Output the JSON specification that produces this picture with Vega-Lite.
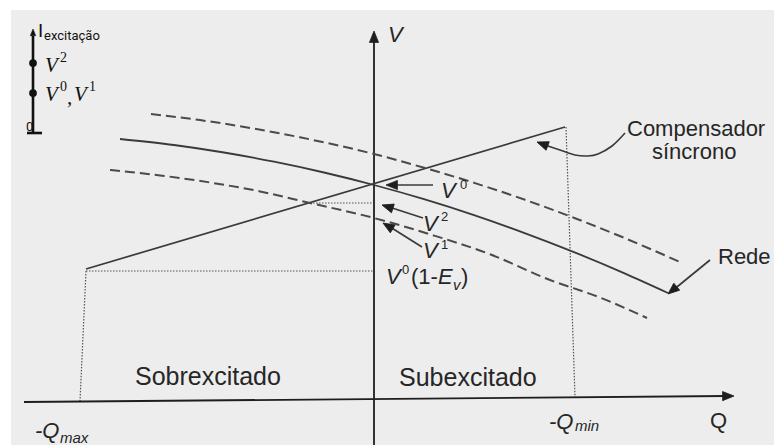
{
  "$schema": "https://vega.github.io/schema/vega-lite/v6.json",
  "width": 763,
  "height": 435,
  "padding": {"left": 11, "top": 10, "right": 0, "bottom": 0},
  "autosize": {"type": "none"},
  "background": "white",
  "config": {"view": {"stroke": null, "fill": "#ededed"}},
  "datasets": {
    "axes": [
      {"q": 0, "v": -45, "q2": 0, "v2": 362},
      {"q": -350, "v": -2, "q2": 352, "v2": 4}
    ],
    "solid_segments": [
      {"name": "compensador", "q": -288, "v": 131, "q2": 191, "v2": 273},
      {"name": "seta V0", "q": 59, "v": 215, "q2": 18, "v2": 215},
      {"name": "seta V2", "q": 49, "v": 182, "q2": 12, "v2": 194},
      {"name": "seta V1", "q": 48, "v": 153, "q2": 13, "v2": 175},
      {"name": "seta rede", "q": 336, "v": 140, "q2": 298, "v2": 109}
    ],
    "dotted_segments": [
      {"name": "V0(1-Ev)", "q": -288, "v": 129, "q2": 0, "v2": 129},
      {"name": "-Qmax", "q": -288, "v": 129, "q2": -294, "v2": -1},
      {"name": "-Qmin", "q": 192, "v": 273, "q2": 201, "v2": 3},
      {"name": "V2", "q": -64, "v": 197, "q2": 0, "v2": 197}
    ],
    "rede": [
      {"q": -254, "v": 261}, {"q": -200, "v": 255}, {"q": -150, "v": 247.5},
      {"q": -100, "v": 238.3}, {"q": -50, "v": 227.5}, {"q": 0, "v": 215},
      {"q": 50, "v": 200.8}, {"q": 100, "v": 184.9}, {"q": 150, "v": 167.2},
      {"q": 200, "v": 147.9}, {"q": 250, "v": 126.9}, {"q": 294, "v": 107}
    ],
    "dashed": [
      {"curve": "superior", "q": -223, "v": 286}, {"curve": "superior", "q": -174, "v": 279.9},
      {"curve": "superior", "q": -124, "v": 272.1}, {"curve": "superior", "q": -74, "v": 262.7},
      {"curve": "superior", "q": 0, "v": 246}, {"curve": "superior", "q": 51, "v": 232},
      {"curve": "superior", "q": 101, "v": 216.9}, {"curve": "superior", "q": 151, "v": 200.2},
      {"curve": "superior", "q": 201, "v": 181.8}, {"curve": "superior", "q": 251, "v": 161.8},
      {"curve": "superior", "q": 306, "v": 138},
      {"curve": "inferior", "q": -264, "v": 230}, {"curve": "inferior", "q": -214, "v": 224.6},
      {"curve": "inferior", "q": -164, "v": 217.5}, {"curve": "inferior", "q": -114, "v": 208.6},
      {"curve": "inferior", "q": -64, "v": 197}, {"curve": "inferior", "q": 0, "v": 182},
      {"curve": "inferior", "q": 56, "v": 165.7}, {"curve": "inferior", "q": 116, "v": 145.8},
      {"curve": "inferior", "q": 176, "v": 120}, {"curve": "inferior", "q": 226, "v": 102.5},
      {"curve": "inferior", "q": 273, "v": 82}
    ],
    "callout": [
      {"i": 0, "q": 251, "v": 267}, {"i": 1, "q": 238, "v": 254}, {"i": 2, "q": 224, "v": 246},
      {"i": 3, "q": 214, "v": 244}, {"i": 4, "q": 201, "v": 245}, {"i": 5, "q": 186, "v": 250},
      {"i": 6, "q": 171, "v": 255}, {"i": 7, "q": 165, "v": 257}
    ],
    "heads": [
      {"q": 0, "v": 369, "angle": 270},
      {"q": 360, "v": 4, "angle": -0.5},
      {"q": 12, "v": 215, "angle": 180},
      {"q": 8, "v": 195, "angle": 197.6},
      {"q": 9, "v": 177, "angle": 211.6},
      {"q": 163, "v": 258, "angle": 200.6},
      {"q": 294, "v": 106, "angle": 140}
    ],
    "inset_lines": [
      {"q": -341, "v": 267, "q2": -341, "v2": 364},
      {"q": -347, "v": 267, "q2": -332, "v2": 267}
    ],
    "inset_head": [{"q": -341, "v": 371, "angle": 270}],
    "inset_dots": [{"q": -341, "v": 337, "label": "V2"}, {"q": -341, "v": 307, "label": "V0, V1"}],
    "italic": [
      {"t": "V", "q": 14, "v": 358},
      {"t": "V", "q": 67, "v": 202},
      {"t": "V", "q": 49, "v": 169},
      {"t": "V", "q": 49, "v": 142},
      {"t": "V", "q": 12, "v": 116},
      {"t": "E", "q": 64, "v": 116},
      {"t": "-Q", "q": -339, "v": -38},
      {"t": "-Q", "q": 175, "v": -29}
    ],
    "upright": [
      {"t": "(1-", "q": 37, "v": 116},
      {"t": ")", "q": 87, "v": 116},
      {"t": "Q", "q": 336, "v": -28}
    ],
    "sup": [
      {"t": "0", "q": 86, "v": 211},
      {"t": "2", "q": 67, "v": 179},
      {"t": "1", "q": 67, "v": 151},
      {"t": "0", "q": 28, "v": 126}
    ],
    "sub": [
      {"t": "max", "q": -314, "v": -43},
      {"t": "min", "q": 201, "v": -31},
      {"t": "v", "q": 79, "v": 110}
    ],
    "notes": [
      {"t": "Compensador", "q": 253, "v": 271},
      {"t": "síncrono", "q": 278, "v": 248},
      {"t": "Rede", "q": 344, "v": 143}
    ],
    "regions": [
      {"t": "Sobrexcitado", "q": -239, "v": 23},
      {"t": "Subexcitado", "q": 25, "v": 22}
    ],
    "inset_serif": [
      {"t": "V", "q": -329, "v": 328},
      {"t": "V", "q": -329, "v": 299},
      {"t": ",", "q": -307, "v": 296},
      {"t": "V", "q": -300, "v": 299}
    ],
    "inset_sup": [
      {"t": "2", "q": -314, "v": 338},
      {"t": "0", "q": -314, "v": 309},
      {"t": "1", "q": -285, "v": 309}
    ]
  },
  "encoding": {
    "x": {"field": "q", "type": "quantitative", "scale": {"domain": [-363, 400], "nice": false, "zero": false}, "axis": null},
    "y": {"field": "v", "type": "quantitative", "scale": {"domain": [-45, 390], "nice": false, "zero": false}, "axis": null}
  },
  "layer": [
    {
      "data": {"name": "dotted_segments"},
      "mark": {"type": "rule", "color": "#555555", "strokeWidth": 1.2, "strokeDash": [1.5, 1.5]},
      "encoding": {"x2": {"field": "q2"}, "y2": {"field": "v2"}}
    },
    {
      "data": {"name": "axes"},
      "mark": {"type": "rule", "color": "#1e1e1e", "strokeWidth": 1.8},
      "encoding": {"x2": {"field": "q2"}, "y2": {"field": "v2"}}
    },
    {
      "data": {"name": "solid_segments"},
      "mark": {"type": "rule", "color": "#3a3a3a", "strokeWidth": 1.7},
      "encoding": {"x2": {"field": "q2"}, "y2": {"field": "v2"}}
    },
    {
      "data": {"name": "rede"},
      "mark": {"type": "line", "color": "#3a3a3a", "strokeWidth": 1.8, "interpolate": "monotone"},
      "encoding": {}
    },
    {
      "data": {"name": "dashed"},
      "mark": {"type": "line", "color": "#4a4a4a", "strokeWidth": 2, "strokeDash": [10, 5], "interpolate": "monotone"},
      "encoding": {"detail": {"field": "curve"}}
    },
    {
      "data": {"name": "callout"},
      "mark": {"type": "line", "color": "#3a3a3a", "strokeWidth": 1.6, "interpolate": "cardinal"},
      "encoding": {"order": {"field": "i"}}
    },
    {
      "data": {"name": "heads"},
      "mark": {"type": "point", "shape": "M0,0L-2,-0.8L-2,0.8Z", "filled": true, "fill": "#1e1e1e", "stroke": "#1e1e1e", "strokeWidth": 0.8, "opacity": 1, "size": 130},
      "encoding": {"angle": {"field": "angle", "type": "quantitative", "scale": null}}
    },
    {
      "data": {"name": "inset_lines"},
      "mark": {"type": "rule", "color": "#111111", "strokeWidth": 2.6},
      "encoding": {"x2": {"field": "q2"}, "y2": {"field": "v2"}}
    },
    {
      "data": {"name": "inset_head"},
      "mark": {"type": "point", "shape": "M0,0L-2,-0.8L-2,0.8Z", "filled": true, "fill": "#111111", "stroke": "#111111", "strokeWidth": 0.6, "opacity": 1, "size": 45},
      "encoding": {"angle": {"field": "angle", "type": "quantitative", "scale": null}}
    },
    {
      "data": {"name": "inset_dots"},
      "mark": {"type": "point", "shape": "circle", "filled": true, "color": "#111111", "opacity": 1, "size": 60},
      "encoding": {}
    },
    {
      "data": {"name": "italic"},
      "mark": {"type": "text", "font": "Liberation Sans", "fontStyle": "italic", "fontSize": 22, "align": "left", "baseline": "alphabetic", "color": "#262626"},
      "encoding": {"text": {"field": "t"}}
    },
    {
      "data": {"name": "upright"},
      "mark": {"type": "text", "font": "Liberation Sans", "fontSize": 22, "align": "left", "baseline": "alphabetic", "color": "#262626"},
      "encoding": {"text": {"field": "t"}}
    },
    {
      "data": {"name": "sup"},
      "mark": {"type": "text", "font": "Liberation Sans", "fontSize": 13, "align": "left", "baseline": "alphabetic", "color": "#262626"},
      "encoding": {"text": {"field": "t"}}
    },
    {
      "data": {"name": "sub"},
      "mark": {"type": "text", "font": "Liberation Sans", "fontStyle": "italic", "fontSize": 15, "align": "left", "baseline": "alphabetic", "color": "#262626"},
      "encoding": {"text": {"field": "t"}}
    },
    {
      "data": {"name": "notes"},
      "mark": {"type": "text", "font": "Liberation Sans", "fontSize": 22, "align": "left", "baseline": "middle", "color": "#262626"},
      "encoding": {"text": {"field": "t"}}
    },
    {
      "data": {"name": "regions"},
      "mark": {"type": "text", "font": "Liberation Sans", "fontSize": 25, "align": "left", "baseline": "middle", "color": "#262626"},
      "encoding": {"text": {"field": "t"}}
    },
    {
      "data": {"values": [{"t": "I", "q": -336, "v": 363}]},
      "mark": {"type": "text", "font": "Roboto", "fontSize": 19, "align": "left", "baseline": "alphabetic", "color": "#111111"},
      "encoding": {"text": {"field": "t"}}
    },
    {
      "data": {"values": [{"t": "excitação", "q": -330, "v": 360}, {"t": "0", "q": -348, "v": 269}]},
      "mark": {"type": "text", "font": "Roboto", "fontSize": 13, "align": "left", "baseline": "alphabetic", "color": "#111111"},
      "encoding": {"text": {"field": "t"}}
    },
    {
      "data": {"name": "inset_serif"},
      "mark": {"type": "text", "font": "Liberation Serif", "fontStyle": "italic", "fontSize": 21, "align": "left", "baseline": "alphabetic", "color": "#111111"},
      "encoding": {"text": {"field": "t"}}
    },
    {
      "data": {"name": "inset_sup"},
      "mark": {"type": "text", "font": "Liberation Serif", "fontSize": 14, "align": "left", "baseline": "alphabetic", "color": "#111111"},
      "encoding": {"text": {"field": "t"}}
    }
  ]
}
